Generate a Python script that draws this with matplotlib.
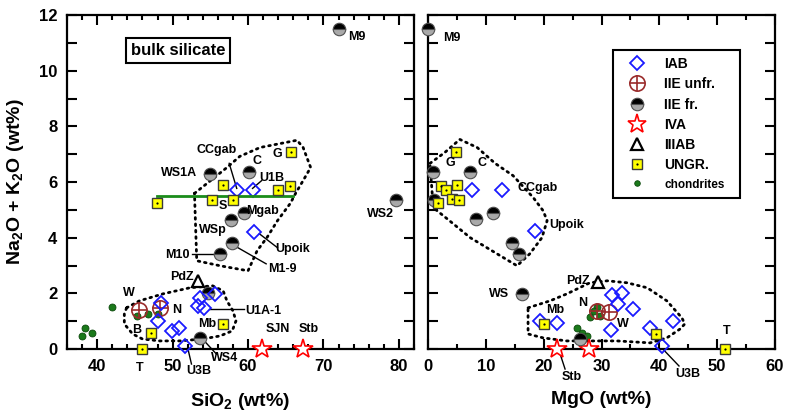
import matplotlib
matplotlib.use("Agg")
import matplotlib.pyplot as plt
from matplotlib.lines import Line2D
from matplotlib.legend_handler import HandlerTuple
from matplotlib.ticker import MultipleLocator

plt.rcParams['font.family'] = ['Liberation Sans', 'DejaVu Sans']
plt.rcParams['font.weight'] = 'bold'
plt.rcParams['mathtext.fontset'] = 'custom'
plt.rcParams['mathtext.rm'] = 'Liberation Sans:bold'
plt.rcParams['mathtext.bf'] = 'Liberation Sans:bold'
plt.rcParams['mathtext.it'] = 'Liberation Sans:bold'

# ---------------- data: left panel (SiO2 vs Na2O+K2O) ----------------
iab_si = [58.5, 60.7, 60.8, 55.6, 53.6, 53.3, 54.1, 48.5, 48.0, 49.9, 50.8, 51.7]
iab_si_alk = [5.7, 5.7, 4.22, 1.98, 1.84, 1.55, 1.48, 1.66, 1.0, 0.65, 0.76, 0.12]
iieu_si = [45.6, 48.3]
iieu_si_alk = [1.4, 1.48]
iief_si = [72.0, 79.6, 54.9, 60.1, 59.5, 57.7, 57.9, 56.3, 54.7, 53.6]
iief_si_alk = [11.5, 5.37, 6.3, 6.35, 4.87, 4.65, 3.82, 3.42, 2.02, 0.4]
iva_si = [61.9, 67.3]
iva_si_alk = [0.0, 0.0]
iiiab_si = [53.3]
iiiab_si_alk = [2.45]
ungr_si = [47.9, 56.7, 55.2, 58.0, 64.0, 65.5, 65.7, 47.1, 45.9, 56.7]
ungr_si_alk = [5.23, 5.9, 5.37, 5.37, 5.7, 5.85, 7.06, 0.58, 0.0, 0.9]
chon_si = [42.0, 45.3, 46.7, 48.1, 38.4, 38.0, 39.3]
chon_si_alk = [1.51, 1.19, 1.26, 1.26, 0.76, 0.47, 0.58]
green_line_si = [47.9, 66.0]
green_line_alk = [5.51, 5.51]
poly1_si = [52.9, 57.2, 58.9, 61.6, 66.5, 67.3, 68.3, 67.3, 66.3, 65.6, 63.9, 62.5, 61.2, 60.0, 56.3, 53.2, 52.9]
poly1_si_alk = [5.59, 6.52, 6.92, 7.24, 7.5, 7.24, 6.52, 6.05, 5.59, 5.23, 4.61, 4.0, 3.53, 2.81, 2.99, 3.17, 5.59]
poly2_si = [43.9, 45.6, 48.7, 52.3, 55.3, 56.7, 57.2, 58.0, 58.4, 57.9, 56.3, 54.0, 50.9, 48.3, 46.0, 44.7, 43.6, 43.6, 43.9]
poly2_si_alk = [1.48, 1.73, 1.98, 2.2, 2.27, 2.09, 1.73, 1.37, 1.01, 0.65, 0.47, 0.36, 0.29, 0.29, 0.36, 0.54, 0.9, 1.26, 1.48]
labels_si = ['M9', 'WS2', 'WS1A', 'CCgab', 'C', 'G', 'U1B', 'S', 'Mgab', 'WSp', 'Upoik', 'M1-9',
             'M10', 'PdZ', 'W', 'N', 'U1A-1', 'Mb', 'B', 'T', 'U3B', 'WS4', 'SJN', 'Stb']
labels_si_x = [74.4, 77.5, 50.9, 55.9, 61.2, 63.9, 63.1, 56.6, 61.9, 55.3, 65.9, 64.6,
               50.6, 51.2, 44.2, 50.5, 62.0, 54.6, 45.3, 45.6, 53.5, 56.9, 64.0, 68.0]
labels_si_y = [11.2, 4.86, 6.34, 7.14, 6.77, 6.99, 6.16, 5.12, 4.97, 4.29, 3.6, 2.88,
               3.39, 2.59, 2.02, 1.41, 1.37, 0.9, 0.68, -0.68, -0.79, -0.32, 0.72, 0.72]
leaders_si = [((57.5, 6.67), (58.5, 5.77)), ((61.8, 6.05), (60.6, 5.77)),
              ((61.5, 4.14), (63.9, 3.64)), ((58.2, 3.71), (62.4, 3.06)),
              ((52.6, 3.42), (55.8, 3.42)), ((54.9, 1.44), (59.5, 1.44)),
              ((54.2, 0.29), (55.8, -0.18)), ((52.0, 0.04), (52.5, -0.54))]

# ---------------- data: right panel (MgO vs Na2O+K2O) ----------------
iab_mg = [7.6, 12.8, 18.5, 31.8, 33.5, 32.9, 35.4, 31.7, 38.4, 42.4, 40.5, 19.4, 22.3]
iab_mg_alk = [5.7, 5.7, 4.25, 1.95, 2.02, 1.62, 1.42, 0.67, 0.74, 1.01, 0.1, 1.0, 0.92]
iieu_mg = [29.2, 31.3]
iieu_mg_alk = [1.37, 1.33]
iief_mg = [0.0, 0.8, 7.3, 1.0, 8.3, 11.3, 14.5, 15.7, 16.3, 26.3]
iief_mg_alk = [11.5, 6.35, 6.35, 5.37, 4.68, 4.9, 3.82, 3.42, 1.98, 0.36]
iva_mg = [22.3, 27.8]
iva_mg_alk = [0.0, 0.0]
iiiab_mg = [29.4]
iiiab_mg_alk = [2.41]
ungr_mg = [4.8, 2.2, 3.1, 5.1, 4.1, 5.4, 1.7, 20.1, 39.4, 51.4]
ungr_mg_alk = [7.06, 5.85, 5.7, 5.9, 5.4, 5.37, 5.23, 0.9, 0.54, 0.0]
chon_mg = [29.2, 28.7, 28.0, 29.7, 25.8, 26.6, 27.5]
chon_mg_alk = [1.51, 1.37, 1.15, 1.19, 0.76, 0.58, 0.47]
poly1_mg = [0.35, 2.9, 5.5, 8.5, 11.6, 14.7, 18.2, 19.9, 20.6, 19.7, 17.6, 15.4, 12.5, 7.3, 3.3, 0.9, 0.35]
poly1_mg_alk = [6.67, 7.06, 7.53, 7.24, 6.67, 6.23, 5.44, 4.97, 4.61, 4.0, 3.42, 2.99, 3.35, 4.0, 4.68, 5.08, 6.67]
poly2_mg = [17.3, 21.1, 24.0, 28.0, 31.0, 34.4, 37.9, 41.3, 43.9, 44.4, 43.6, 41.3, 38.4, 32.7, 28.5, 24.0, 19.9, 17.3, 17.3]
poly2_mg_alk = [1.48, 1.73, 1.98, 2.38, 2.45, 2.38, 2.2, 1.73, 1.12, 0.9, 0.72, 0.4, 0.22, 0.29, 0.29, 0.29, 0.4, 0.54, 1.48]
labels_mg = ['M9', 'G', 'C', 'CCgab', 'Upoik', 'WS', 'PdZ', 'Mb', 'N', 'W', 'T', 'Stb', 'U3B']
labels_mg_x = [4.15, 3.8, 9.3, 19.0, 23.9, 12.3, 25.9, 22.0, 26.8, 33.7, 51.7, 24.9, 45.0]
labels_mg_y = [11.17, 6.67, 6.67, 5.77, 4.47, 1.98, 2.45, 1.41, 1.66, 0.9, 0.65, -1.0, -0.9]
leaders_mg = [((22.5, 0.04), (23.7, -0.72)), ((40.6, 0.0), (43.4, -0.61))]

legend_labels = ['IAB', 'IIE unfr.', 'IIE fr.', 'IVA', 'IIIAB', 'UNGR.', 'chondrites']

# ---------------- styles ----------------
IAB = dict(marker='D', ms=7.6, mfc='none', mec='#1a1aff', mew=1.3, ls='none')
IIEU = dict(marker='o', ms=11, mfc='none', mec='#9a2b2b', mew=1.2, ls='none')
IIEU_PLUS = dict(marker='+', ms=11, mec='#9a2b2b', mew=1.2, ls='none')
IIEF = dict(marker='o', ms=9, fillstyle='top', mfc='black', mfcalt='#a9a9a9', mec='#505050', mew=0.8, ls='none')
IVA = dict(marker='*', ms=15, mfc='white', mec='red', mew=1.2, ls='none')
IIIAB = dict(marker='^', ms=8, mfc='white', mec='black', mew=1.6, ls='none')
UNGR = dict(marker='s', ms=7.5, mfc='#ffff00', mec='#3a3a3a', mew=1.0, ls='none')
UNGR_DOT = dict(marker='o', ms=1.6, mfc='black', mec='black', mew=0, ls='none')
CHON = dict(marker='o', ms=5, mfc='#1b7a1b', mec='#0b480b', mew=0.6, ls='none')
DOTTED = dict(color='black', lw=2.0, linestyle=(0, (0.6, 1.7)), dash_capstyle='round')

fig = plt.figure(figsize=(7.85, 4.16), dpi=100)
axL = fig.add_axes([67/785, 1-349/416, 347/785, 334/416])
axR = fig.add_axes([428/785, 1-349/416, 347/785, 334/416])


def draw(ax, d):
    ax.plot(d['p1x'], d['p1y'], zorder=2, **DOTTED)
    ax.plot(d['p2x'], d['p2y'], zorder=2, **DOTTED)
    for (a, b) in d['leaders']:
        ax.plot([a[0], b[0]], [a[1], b[1]], color='black', lw=1.0, zorder=2, clip_on=False)
    kw = dict(clip_on=False)
    ax.plot(d['chx'], d['chy'], zorder=3, **CHON, **kw)
    ax.plot(d['ivx'], d['ivy'], zorder=4, **IVA, **kw)
    ax.plot(d['iix'], d['iiy'], zorder=4, **IIIAB, **kw)
    ax.plot(d['ux'], d['uy'], zorder=5, **IIEU, **kw)
    ax.plot(d['ux'], d['uy'], zorder=5, **IIEU_PLUS, **kw)
    ax.plot(d['fx'], d['fy'], zorder=5, **IIEF, **kw)
    ax.plot(d['ax'], d['ay'], zorder=6, **IAB, **kw)
    ax.plot(d['gx'], d['gy'], zorder=7, **UNGR, **kw)
    ax.plot(d['gx'], d['gy'], zorder=8, **UNGR_DOT, **kw)
    for t, x, y in zip(d['lt'], d['lx'], d['ly']):
        ax.text(x, y, t, ha='center', va='center', fontsize=9, fontweight='bold', zorder=9)
    ax.set_ylim(0, 12)
    ax.yaxis.set_major_locator(MultipleLocator(2))
    ax.yaxis.set_minor_locator(MultipleLocator(1))
    ax.tick_params(which='both', direction='in', top=True, right=True, width=1.5)
    ax.tick_params(which='major', length=7, labelsize=12, pad=7)
    ax.tick_params(axis='x', which='minor', length=3.5)
    ax.tick_params(axis='y', which='minor', length=7)
    for s in ax.spines.values():
        s.set_linewidth(1.6)
    for lab in ax.get_xticklabels() + ax.get_yticklabels():
        lab.set_fontweight('bold')


draw(axL, dict(p1x=poly1_si, p1y=poly1_si_alk, p2x=poly2_si, p2y=poly2_si_alk, leaders=leaders_si,
               chx=chon_si, chy=chon_si_alk, ivx=iva_si, ivy=iva_si_alk, iix=iiiab_si, iiy=iiiab_si_alk,
               ux=iieu_si, uy=iieu_si_alk, fx=iief_si, fy=iief_si_alk, ax=iab_si, ay=iab_si_alk,
               gx=ungr_si, gy=ungr_si_alk, lt=labels_si, lx=labels_si_x, ly=labels_si_y))
axL.plot(green_line_si, green_line_alk, color='#1a8c1a', lw=2.0, zorder=6)
axL.set_xlim(36, 82)
axL.xaxis.set_major_locator(MultipleLocator(10))
axL.xaxis.set_minor_locator(MultipleLocator(2))
axL.text(0.32, 0.895, 'bulk silicate', transform=axL.transAxes, ha='center', va='center',
         fontsize=12, fontweight='bold',
         bbox=dict(boxstyle='square,pad=0.3', fc='white', ec='black', lw=1.5))
axL.set_xlabel('SiO$_2$ (wt%)', fontsize=14, fontweight='bold')
axL.xaxis.set_label_coords(0.5, -0.125)
axL.set_ylabel('Na$_2$O + K$_2$O (wt%)', fontsize=14, fontweight='bold')
axL.yaxis.set_label_coords(-0.118, 0.5)

draw(axR, dict(p1x=poly1_mg, p1y=poly1_mg_alk, p2x=poly2_mg, p2y=poly2_mg_alk, leaders=leaders_mg,
               chx=chon_mg, chy=chon_mg_alk, ivx=iva_mg, ivy=iva_mg_alk, iix=iiiab_mg, iiy=iiiab_mg_alk,
               ux=iieu_mg, uy=iieu_mg_alk, fx=iief_mg, fy=iief_mg_alk, ax=iab_mg, ay=iab_mg_alk,
               gx=ungr_mg, gy=ungr_mg_alk, lt=labels_mg, lx=labels_mg_x, ly=labels_mg_y))
axR.set_xlim(0, 60)
axR.xaxis.set_major_locator(MultipleLocator(10))
axR.xaxis.set_minor_locator(MultipleLocator(5))
axR.tick_params(axis='y', labelleft=False)
axR.set_xlabel('MgO (wt%)', fontsize=14, fontweight='bold')
axR.xaxis.set_label_coords(0.5, -0.125)

handles = [Line2D([], [], **IAB),
           (Line2D([], [], **IIEU), Line2D([], [], **IIEU_PLUS)),
           Line2D([], [], **IIEF),
           Line2D([], [], **{**IVA, 'ms': 14}),
           Line2D([], [], **IIIAB),
           (Line2D([], [], **UNGR), Line2D([], [], **UNGR_DOT)),
           Line2D([], [], **{**CHON, 'ms': 4})]
leg = axR.legend(handles, legend_labels, loc='upper left', bbox_to_anchor=(0.533, 0.45, 0.366, 0.445),
                 mode='expand', prop=dict(weight='bold', size=10),
                 handler_map={tuple: HandlerTuple(ndivide=1, pad=0)},
                 frameon=True, fancybox=False, edgecolor='black', framealpha=1,
                 borderpad=0.5, labelspacing=0.45, handlelength=2.4, handletextpad=0.8,
                 borderaxespad=0)
leg.get_frame().set_linewidth(1.5)
leg.get_texts()[-1].set_fontsize(8.5)

fig.savefig('out.png', dpi=100)
